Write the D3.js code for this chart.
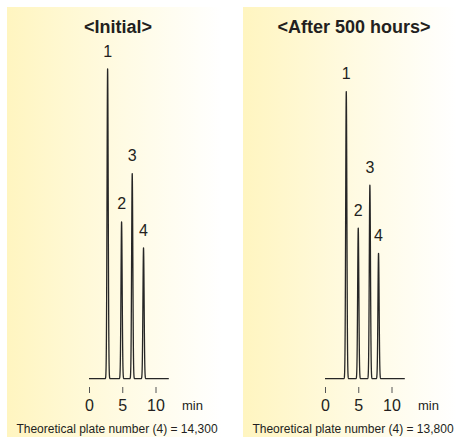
<!DOCTYPE html>
<html>
<head>
<meta charset="utf-8">
<script src="https://cdn.jsdelivr.net/npm/d3@7"></script>
<style>
  html, body { margin: 0; padding: 0; background: #ffffff; }
  svg { display: block; }
  text { font-family: "Liberation Sans", Arial, Helvetica, sans-serif; fill: #231f20; }
</style>
</head>
<body>
<svg id="chart" width="456" height="439"></svg>
<script>
// Chromatograms of the same 4-component test mix, fresh column vs. after 500 h of use.
const panelTitles = ["<Initial>", "<After 500 hours>"];
const peakNames = ["1", "2", "3", "4"];
// Retention times (min)
const retentionInitial = [2.8, 4.9, 6.5, 8.2];
const retentionAfter = [3.2, 5.0, 6.75, 8.05];
// Peak heights (relative response, peak 1 initial = 100)
const heightInitial = [100, 50.6, 66.2, 42.2];
const heightAfter = [92.7, 48.6, 62.5, 40.5];
// Peak standard deviation (min)
const peakSigma = [0.09, 0.09, 0.09, 0.09];
// Time axis
const timeTicks = [0, 5, 10];
const timeUnit = "min";
const runRange = [0, 12];
// Column efficiency for peak 4
const plateNumbers = ["14,300", "13,800"];

const svg = d3.select("#chart");

const defs = svg.append("defs");
const grad = defs.append("linearGradient")
  .attr("id", "panelBg").attr("x1", "0%").attr("x2", "100%").attr("y1", "0%").attr("y2", "0%");
grad.append("stop").attr("offset", "0%").attr("stop-color", "#fff5c0");
grad.append("stop").attr("offset", "55%").attr("stop-color", "#fffbe4");
grad.append("stop").attr("offset", "100%").attr("stop-color", "#ffffff");

const panelW = 215, panelTop = 7, panelBottom = 437;
const panelLefts = [7, 243];

// Shared scales (panel-local coordinates)
const x = d3.scaleLinear().domain([0, 10]).range([82, 148.5]);
const y = d3.scaleLinear().domain([0, 100]).range([378.7, 69]);

const panels = [
  { title: panelTitles[0], rt: retentionInitial, h: heightInitial, plates: plateNumbers[0] },
  { title: panelTitles[1], rt: retentionAfter, h: heightAfter, plates: plateNumbers[1] }
];

const step = 0.004;
const times = d3.range(runRange[0], runRange[1] + step / 2, step);

panels.forEach((p, i) => {
  const g = svg.append("g").attr("transform", `translate(${panelLefts[i]},0)`);

  g.append("rect")
    .attr("x", 0).attr("y", panelTop)
    .attr("width", panelW).attr("height", panelBottom - panelTop)
    .attr("fill", "url(#panelBg)");

  g.append("text")
    .attr("x", 111).attr("y", 33)
    .attr("text-anchor", "middle")
    .attr("font-size", 18).attr("font-weight", "bold")
    .text(p.title);

  // Detector trace: sum of Gaussian peaks
  const trace = times.map(t => {
    let s = 0;
    p.rt.forEach((rt, k) => {
      const z = (t - rt) / peakSigma[k];
      s += p.h[k] * Math.exp(-0.5 * z * z);
    });
    return [t, s];
  });

  g.append("path")
    .datum(trace)
    .attr("fill", "none")
    .attr("stroke", "#262626")
    .attr("stroke-width", 1.3)
    .attr("stroke-linejoin", "round")
    .attr("d", d3.line().x(d => x(d[0])).y(d => y(d[1])));

  // Peak labels above the apexes
  g.selectAll("text.peak")
    .data(peakNames)
    .join("text")
    .attr("class", "peak")
    .attr("x", (d, k) => x(p.rt[k]))
    .attr("y", (d, k) => y(p.h[k]) - 12.5)
    .attr("text-anchor", "middle")
    .attr("font-size", 16)
    .text(d => d);

  // Time axis: short tick marks, labels below
  const axis = d3.axisBottom(x).tickValues(timeTicks).tickSize(6).tickPadding(5);
  const ag = g.append("g").attr("transform", "translate(0,387)").call(axis);
  ag.select(".domain").remove();
  ag.selectAll(".tick line").attr("stroke", "#555").attr("stroke-width", 1);
  ag.selectAll(".tick text")
    .attr("font-size", 16)
    .attr("font-family", "Liberation Sans, Arial, sans-serif")
    .attr("fill", "#231f20")
    .attr("dy", null)
    .attr("y", 23.5);

  g.append("text")
    .attr("x", 175).attr("y", 410)
    .attr("font-size", 13)
    .text(timeUnit);

  g.append("text")
    .attr("x", 110).attr("y", 433)
    .attr("text-anchor", "middle")
    .attr("font-size", 12)
    .text(`Theoretical plate number (4) = ${p.plates}`);
});
</script>
</body>
</html>
